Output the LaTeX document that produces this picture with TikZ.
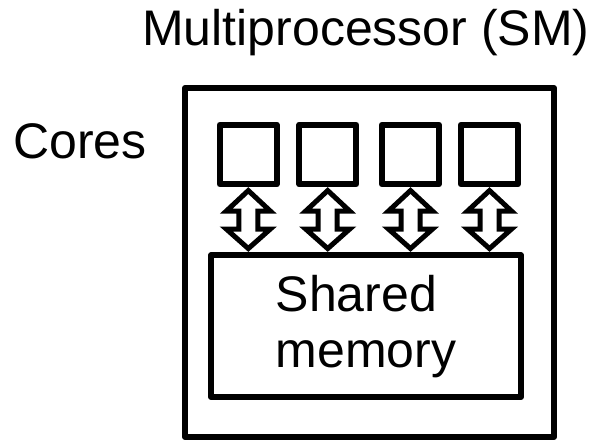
\documentclass[tikz,border=0pt]{standalone}
\usepackage{fontspec}
\setmainfont{Liberation Sans}
\usetikzlibrary{calc}
\begin{document}
\begin{tikzpicture}[x=1pt,y=-1pt,
  bigfont/.style={font=\fontsize{50}{56}\selectfont},
  corebox/.style={draw, line width=6pt, line join=round, inner sep=0pt,
    minimum width=57pt, minimum height=59.5pt},
  membox/.style={draw, line width=6pt, line join=round, inner sep=0pt,
    minimum width=310pt, minimum height=141.7pt, align=left, bigfont},
  smbox/.style={draw, line width=6pt, line join=round, inner sep=0pt,
    minimum width=369pt, minimum height=349pt},
  txt/.style={inner sep=0pt, anchor=base west, bigfont},
  dblarrow/.style={draw, line width=5pt, line join=miter, fill=white}]
\useasboundingbox (0,0) rectangle (594,440);
\node[smbox] (sm) at (369.5,262.5) {};
\node[txt] (title) at (142,45.5) {Multiprocessor (SM)};
\node[txt] (cores) at (13,158.5) {Cores};
\node[corebox] (c1) at (248.3,154.5) {};
\node[corebox] (c2) at (327.7,154.5) {};
\node[corebox] (c3) at (410.5,154.5) {};
\node[corebox] (c4) at (489.5,154.5) {};
\node[membox] (shm) at (366,326.2) {Shared\\memory};
\foreach \i in {1,...,4}
  \draw[dblarrow] ($(c\i.south)+(0,3.3)$) -- ++(22,20.5) -- ++(-12.5,0) -- ++(0,18)
    -- ++(12.5,0) -- ++(-22,19.5) -- ++(-22,-19.5) -- ++(12.5,0) -- ++(0,-18)
    -- ++(-12.5,0) -- cycle;
\end{tikzpicture}
\end{document}
